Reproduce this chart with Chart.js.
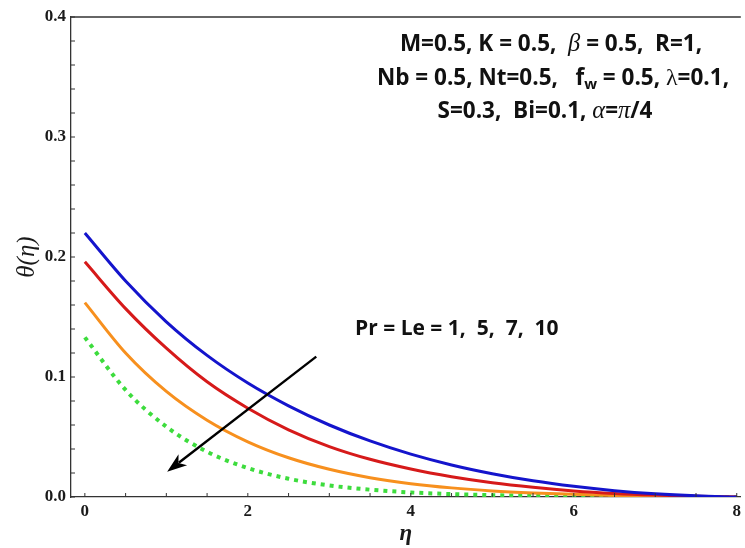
<!DOCTYPE html>
<html>
<head>
<meta charset="utf-8">
<script src="https://cdn.jsdelivr.net/npm/chart.js@4.4.1/dist/chart.umd.min.js"></script>
<style>
  html, body { margin: 0; padding: 0; background: #fff; }
  #wrap { width: 745px; height: 548px; position: relative; }
</style>
</head>
<body>
<div id="wrap"><canvas id="thetaChart"></canvas></div>
<script>
// similarity variable eta
const etaValues = [0, 0.5, 1, 1.5, 2, 2.5, 3, 3.5, 4, 4.5, 5, 5.5, 6, 6.5, 7, 7.5, 8];

// temperature profiles theta(eta) for Pr = Le = 1, 5, 7, 10
const thetaPr1  = [0.220, 0.180, 0.146, 0.118, 0.095, 0.076, 0.060, 0.0467, 0.0357, 0.0267, 0.0194, 0.0135, 0.0089, 0.0053, 0.0027, 0.0010, 0];
const thetaPr5  = [0.196, 0.157, 0.124, 0.096, 0.074, 0.056, 0.042, 0.0314, 0.0233, 0.0169, 0.0119, 0.0081, 0.0051, 0.0030, 0.0016, 0.0006, 0];
const thetaPr7  = [0.162, 0.120, 0.088, 0.064, 0.046, 0.0327, 0.0231, 0.0161, 0.0111, 0.0076, 0.0051, 0.0034, 0.0022, 0.0013, 0.0007, 0.0003, 0];
const thetaPr10 = [0.133, 0.0892, 0.0586, 0.0377, 0.0241, 0.0152, 0.0096, 0.0061, 0.0038, 0.0024, 0.0015, 0.0009, 0.0006, 0.0003, 0.0002, 0.0001, 0];

const seriesLabels = ['Pr = Le = 1', 'Pr = Le = 5', 'Pr = Le = 7', 'Pr = Le = 10'];

// arrow showing the direction of increasing Pr = Le
const arrowFrom = { x: 2.84, y: 0.117 };
const arrowTo   = { x: 1.01, y: 0.021 };

const X_MIN = -0.17, X_MAX = 8.05;
const Y_MIN = 0, Y_MAX = 0.4;

const toPoints = ys => etaValues.map((x, i) => ({ x: x, y: ys[i] }));

const boldSans = size => 'bold ' + size + 'px "Open Sans", "Liberation Sans", sans-serif';
const greek = size => 'italic ' + size + 'px "Liberation Serif", "DejaVu Serif", serif';

// draws a row of mixed-font pieces centred on cx
function drawRuns(ctx, runs, cx, y) {
    let total = 0;
    runs.forEach(r => { ctx.font = r.font; total += ctx.measureText(r.text).width; });
    let x = cx - total / 2;
    runs.forEach(r => {
        ctx.font = r.font;
        ctx.fillText(r.text, x, y + (r.dy || 0));
        x += ctx.measureText(r.text).width;
    });
}

const decorPlugin = {
    id: 'decor',
    afterDatasetsDraw(chart) {
        const ctx = chart.ctx;
        const xs = chart.scales.x, ys = chart.scales.y;
        const area = chart.chartArea;

        ctx.save();
        // top frame line
        ctx.strokeStyle = '#333';
        ctx.lineWidth = 1.3;
        ctx.beginPath();
        ctx.moveTo(area.left, area.top);
        ctx.lineTo(area.right, area.top);
        ctx.stroke();

        // inward tick marks
        ctx.lineWidth = 1;
        ctx.strokeStyle = '#333';
        xs.ticks.forEach(t => {
            const px = xs.getPixelForValue(t.value);
            ctx.beginPath();
            ctx.moveTo(px, area.bottom);
            ctx.lineTo(px, area.bottom - 4);
            ctx.stroke();
        });
        ys.ticks.forEach(t => {
            const py = ys.getPixelForValue(t.value);
            ctx.beginPath();
            ctx.moveTo(area.left, py);
            ctx.lineTo(area.left + 4, py);
            ctx.stroke();
        });

        // arrow
        const x1 = xs.getPixelForValue(arrowFrom.x), y1 = ys.getPixelForValue(arrowFrom.y);
        const x2 = xs.getPixelForValue(arrowTo.x), y2 = ys.getPixelForValue(arrowTo.y);
        const ang = Math.atan2(y2 - y1, x2 - x1);
        const head = 21;
        ctx.strokeStyle = '#000';
        ctx.fillStyle = '#000';
        ctx.lineWidth = 2.4;
        ctx.beginPath();
        ctx.moveTo(x1, y1);
        ctx.lineTo(x2 - Math.cos(ang) * head * 0.7, y2 - Math.sin(ang) * head * 0.7);
        ctx.stroke();
        ctx.beginPath();
        ctx.moveTo(x2, y2);
        ctx.lineTo(x2 - head * Math.cos(ang - 0.34), y2 - head * Math.sin(ang - 0.34));
        ctx.lineTo(x2 - head * 0.68 * Math.cos(ang), y2 - head * 0.68 * Math.sin(ang));
        ctx.lineTo(x2 - head * Math.cos(ang + 0.34), y2 - head * Math.sin(ang + 0.34));
        ctx.closePath();
        ctx.fill();

        // parameter block
        ctx.fillStyle = '#111';
        ctx.textBaseline = 'middle';
        ctx.textAlign = 'left';
        const fs = 22.5;
        drawRuns(ctx, [
            { text: 'M=0.5, K = 0.5,  ', font: boldSans(fs) },
            { text: 'β', font: greek(fs + 2) },
            { text: ' = 0.5,  R=1,', font: boldSans(fs) }
        ], 551, 45);
        drawRuns(ctx, [
            { text: 'Nb = 0.5, Nt=0.5,   f', font: boldSans(fs) },
            { text: 'w', font: boldSans(15), dy: 6 },
            { text: ' = 0.5, ', font: boldSans(fs) },
            { text: 'λ', font: '24px "Liberation Serif", serif' },
            { text: '=0.1,', font: boldSans(fs) }
        ], 553, 79);
        drawRuns(ctx, [
            { text: 'S=0.3,  Bi=0.1, ', font: boldSans(fs) },
            { text: 'α', font: greek(fs + 2) },
            { text: '=', font: boldSans(fs) },
            { text: 'π', font: greek(fs + 2) },
            { text: '/4', font: boldSans(fs) }
        ], 545, 112);

        ctx.font = boldSans(21);
        ctx.fillText('Pr = Le = 1,  5,  7,  10', 355, 329);
        ctx.restore();
    }
};

const lineStyle = (label, ys, color, extra) => Object.assign({
    label: label,
    data: toPoints(ys),
    borderColor: color,
    backgroundColor: color,
    borderWidth: 3,
    pointRadius: 0,
    fill: false,
    cubicInterpolationMode: 'monotone'
}, extra || {});

new Chart(document.getElementById('thetaChart'), {
    type: 'line',
    data: {
        datasets: [
            lineStyle(seriesLabels[0], thetaPr1, '#1414cc'),
            lineStyle(seriesLabels[1], thetaPr5, '#d61a1a'),
            lineStyle(seriesLabels[2], thetaPr7, '#f7901e'),
            lineStyle(seriesLabels[3], thetaPr10, '#3ddc3d', { borderWidth: 4, borderDash: [4, 5] })
        ]
    },
    options: {
        responsive: true,
        maintainAspectRatio: false,
        animation: false,
        layout: { padding: { top: 17, right: 0, left: 0, bottom: 0 } },
        plugins: {
            legend: { display: false },
            tooltip: { enabled: false }
        },
        scales: {
            x: {
                type: 'linear',
                min: X_MIN,
                max: X_MAX,
                afterFit: s => { s.height = 51; },
                border: { display: true, color: '#333', width: 1.3 },
                grid: { display: false, drawTicks: false },
                ticks: {
                    stepSize: 0.5,
                    includeBounds: false,
                    autoSkip: false,
                    maxRotation: 0,
                    padding: 4,
                    color: '#1a1a1a',
                    font: { family: '"Liberation Serif", serif', weight: 'bold', size: 17 },
                    callback: v => (Math.abs(v % 2) < 1e-9 ? String(v) : '')
                },
                title: {
                    display: true,
                    text: 'η',
                    color: '#1a1a1a',
                    padding: { top: 0, bottom: 0 },
                    font: { family: '"Liberation Serif", serif', style: 'italic', weight: 'bold', size: 23 }
                }
            },
            y: {
                type: 'linear',
                min: Y_MIN,
                max: Y_MAX,
                afterFit: s => { s.width = 71; },
                border: { display: true, color: '#333', width: 1.3 },
                grid: { display: false, drawTicks: false },
                ticks: {
                    stepSize: 0.02,
                    autoSkip: false,
                    padding: 5,
                    color: '#1a1a1a',
                    font: { family: '"Liberation Serif", serif', weight: 'bold', size: 17 },
                    callback: v => {
                        const k = v * 10;
                        return Math.abs(k - Math.round(k)) < 1e-6 ? v.toFixed(1) : '';
                    }
                },
                title: {
                    display: true,
                    text: 'θ(η)',
                    color: '#1a1a1a',
                    padding: { top: 12, bottom: 0 },
                    font: { family: '"Liberation Serif", serif', style: 'italic', size: 25 }
                }
            }
        }
    },
    plugins: [decorPlugin]
});
</script>
</body>
</html>
